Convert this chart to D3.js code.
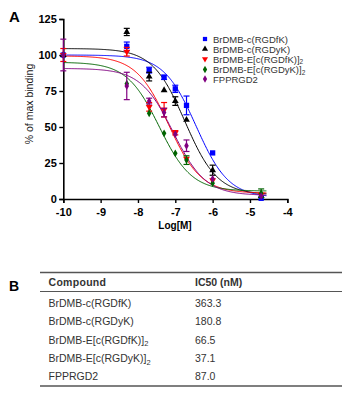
<!DOCTYPE html>
<html><head><meta charset="utf-8">
<script src="https://cdn.jsdelivr.net/npm/d3@7"></script>
<style>body{margin:0;background:#fff;} svg{display:block;font-family:Arial,"Liberation Sans",sans-serif;}</style>
</head><body><svg id="c" width="350" height="394"></svg>
<script>
const logConc = [-10, -8.3, -7.7, -7.3, -7, -6.7, -6, -4.7];
const seriesNames = ["BrDMB-c(RGDfK)", "BrDMB-c(RGDyK)", "BrDMB-E[c(RGDfK)]2", "BrDMB-E[c(RGDyK)]2", "FPPRGD2"];
const seriesColors = ["#0000ff", "#000000", "#ff0000", "#006400", "#800080"];
const seriesSymbols = ["square", "triangle", "triangleDown", "diamond", "diamond"];
const valBlue   = [100, 106, 89.5, 84.5, 76.5, 65, 32, 0.5];
const errBlue   = [1, 3, 2, 1.5, 2.5, 6.5, 1, 1];
const valBlack  = [100, 116, 85, 75.5, 68, 55, 20, 2];
const errBlack  = [1, 2.5, 3, 0.5, 3, 1, 3.5, 1];
const valRed    = [100, 102.3, 64, 62, 46, 28, 13, 3];
const errRed    = [4.5, 3, 3, 5, 1.5, 1, 1, 1];
const valGreen  = [100, 80, 59.5, 45.6, 31.7, 27, 11, 4];
const errGreen  = [1, 1, 1, 1, 1, 3, 1, 3];
const valPurple = [100, 78.5, 68, 60, 45, 37, 14, 2];
const errPurple = [11, 9.5, 2, 3, 1, 4, 1, 1];
// fitted curve parameters (top, bottom, logIC50)
const fitTop    = [100, 104.5, 99.4, 95, 90.7];
const fitBottom = [1, 3, 4, 5.5, 2.5];
const fitLogIC  = [-6.44, -6.74, -7.18, -7.43, -7.06];
const xTicks = [-10, -9, -8, -7, -6, -5, -4];
const yTicks = [0, 25, 50, 75, 100, 125];
const tableCompounds = ["BrDMB-c(RGDfK)", "BrDMB-c(RGDyK)", "BrDMB-E[c(RGDfK)]2", "BrDMB-E[c(RGDyK)]2", "FPPRGD2"];
const tableIC50 = ["363.3", "180.8", "66.5", "37.1", "87.0"];

const vals = [valBlue, valBlack, valRed, valGreen, valPurple];
const errs = [errBlue, errBlack, errRed, errGreen, errPurple];

const svg = d3.select("#c");
const x = d3.scaleLinear().domain([-10, -4]).range([63.3, 287.3]);
const y = d3.scaleLinear().domain([0, 125]).range([199, 19]);

svg.append("text").attr("x", 9).attr("y", 22).attr("font-size", 15).attr("font-weight", "bold").text("A");

const gx = svg.append("g").attr("transform", "translate(0,199)")
  .call(d3.axisBottom(x).tickValues(xTicks).tickSize(4).tickFormat(d => d));
const gy = svg.append("g").attr("transform", "translate(63.3,0)")
  .call(d3.axisLeft(y).tickValues(yTicks).tickSize(4));
[gx, gy].forEach(g => {
  g.select(".domain").attr("stroke", "#000").attr("stroke-width", 1.6);
  g.selectAll(".tick line").attr("stroke", "#000").attr("stroke-width", 1.4);
  g.selectAll(".tick text").attr("font-size", 11).attr("font-weight", "bold").attr("fill", "#000")
   .attr("font-family", "Arial, 'Liberation Sans', sans-serif");
});
gx.selectAll(".tick text").attr("dy", "0.95em");
gy.selectAll(".tick text").attr("dx", "0.05em");

svg.append("text").attr("x", 175).attr("y", 229).attr("text-anchor", "middle")
  .attr("font-size", 10).attr("font-weight", "bold").text("Log[M]");
svg.append("text").attr("transform", "translate(33,104) rotate(-90)").attr("text-anchor", "middle")
  .attr("font-size", 10.5).attr("fill", "#222").text("% of max binding");

function symbolPath(name, size) {
  const t = {square: d3.symbolSquare, triangle: d3.symbolTriangle, triangleDown: d3.symbolTriangle, diamond: d3.symbolDiamond}[name];
  return d3.symbol().type(t).size(size)();
}

// curves
const line = d3.line().x(d => x(d[0])).y(d => y(d[1]));
seriesNames.forEach((n, i) => {
  const pts = d3.range(-10, -4.55 + 1e-9, 0.02).map(lx => [lx, fitBottom[i] + (fitTop[i] - fitBottom[i]) / (1 + Math.pow(10, lx - fitLogIC[i]))]);
  svg.append("path").attr("d", line(pts)).attr("fill", "none").attr("stroke", seriesColors[i]).attr("stroke-width", 1);
});

// points + error bars
seriesNames.forEach((n, i) => {
  const g = svg.append("g");
  logConc.forEach((lx, j) => {
    const cx = x(lx), v = vals[i][j], e = errs[i][j];
    const c = seriesColors[i];
    if (e > 1.2) {
      g.append("line").attr("x1", cx).attr("x2", cx).attr("y1", y(v - e)).attr("y2", y(v + e)).attr("stroke", c).attr("stroke-width", 1.2);
      [v - e, v + e].forEach(w => g.append("line").attr("x1", cx - 3).attr("x2", cx + 3).attr("y1", y(w)).attr("y2", y(w)).attr("stroke", c).attr("stroke-width", 1.2));
    }
    const sym = seriesSymbols[i];
    const size = sym === "square" ? 28 : (sym === "diamond" ? 18 : 20);
    g.append("path").attr("d", symbolPath(sym, size))
      .attr("transform", `translate(${cx},${y(v)})` + (sym === "triangleDown" ? " rotate(180)" : ""))
      .attr("fill", c);
  });
});

// legend
const legY = [39, 49, 59, 69.5, 79];
seriesNames.forEach((n, i) => {
  const sym = seriesSymbols[i];
  svg.append("path").attr("d", symbolPath(sym, sym === "square" ? 18 : 16))
    .attr("transform", `translate(205,${legY[i]})` + (sym === "triangleDown" ? " rotate(180)" : ""))
    .attr("fill", seriesColors[i]);
  const t = svg.append("text").attr("x", 213).attr("y", legY[i] + 3.5).attr("font-size", 9.5).attr("fill", "#333");
  if (i === 2 || i === 3) {
    t.append("tspan").text(n.slice(0, -1));
    t.append("tspan").attr("font-size", 6.5).attr("dy", 1.8).text("2");
  } else t.text(n);
});

// Panel B
svg.append("text").attr("x", 9).attr("y", 291).attr("font-size", 14).attr("font-weight", "bold").text("B");
svg.append("line").attr("x1", 40).attr("x2", 342).attr("y1", 272.5).attr("y2", 272.5).attr("stroke", "#555").attr("stroke-width", 1.5);
svg.append("line").attr("x1", 40).attr("x2", 342).attr("y1", 291.5).attr("y2", 291.5).attr("stroke", "#555").attr("stroke-width", 1.2);
svg.append("line").attr("x1", 40).attr("x2", 342).attr("y1", 386).attr("y2", 386).attr("stroke", "#555").attr("stroke-width", 1.5);
svg.append("text").attr("x", 48.5).attr("y", 285.5).attr("font-size", 10.5).attr("font-weight", "bold").attr("fill", "#333").attr("letter-spacing", 0.3).text("Compound");
svg.append("text").attr("x", 195).attr("y", 285.5).attr("font-size", 10.5).attr("font-weight", "bold").attr("fill", "#333").text("IC50 (nM)");
const rowY = [307, 325, 343.5, 362, 380];
tableCompounds.forEach((c, i) => {
  const t = svg.append("text").attr("x", 48.5).attr("y", rowY[i]).attr("font-size", 10.5).attr("fill", "#333");
  if (i === 2 || i === 3) {
    t.append("tspan").text(c.slice(0, -1));
    t.append("tspan").attr("font-size", 7.5).attr("dy", 2.5).text("2");
  } else t.text(c);
  svg.append("text").attr("x", 195).attr("y", rowY[i]).attr("font-size", 10.5).attr("fill", "#333").text(tableIC50[i]);
});
</script></body></html>
